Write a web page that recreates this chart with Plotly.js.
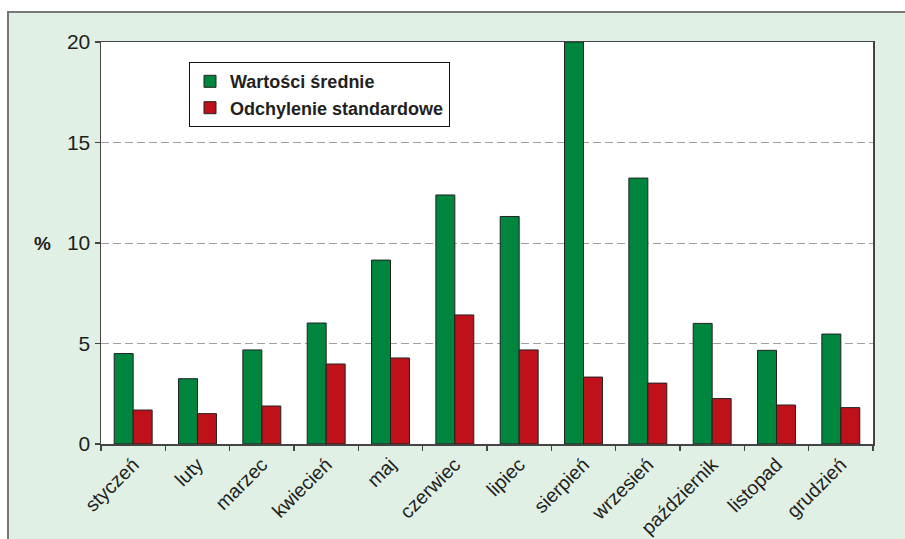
<!DOCTYPE html>
<html>
<head>
<meta charset="utf-8">
<script src="https://cdn.plot.ly/plotly-3.0.1.min.js"></script>
<style>
  html, body { margin: 0; padding: 0; background: #ffffff; width: 905px; height: 539px; overflow: hidden; }
  #frame { position: absolute; left: 7px; top: 11px; width: 896px; height: 526px;
           border-left: 2px solid #777777; border-top: 2px solid #777777; background: #E1F0E5; }
  #chart { width: 896px; height: 526px; }
</style>
</head>
<body>
<div id="frame"><div id="chart"></div></div>
<script>
const months = ["styczeń","luty","marzec","kwiecień","maj","czerwiec","lipiec","sierpień","wrzesień","październik","listopad","grudzień"];
const meanValues = [4.5, 3.25, 4.68, 6.02, 9.15, 12.39, 11.32, 20.0, 13.23, 6.0, 4.66, 5.47];
const stdValues  = [1.69, 1.51, 1.89, 3.98, 4.28, 6.42, 4.68, 3.33, 3.03, 2.26, 1.94, 1.81];
const yTicks = [0, 5, 10, 15, 20];
const seriesNames = ["Wartości średnie", "Odchylenie standardowe"];

const traces = [
  { type: "bar", x: months, y: meanValues, name: "<b>" + seriesNames[0] + "</b>",
    marker: { color: "#00853F", line: { color: "#222222", width: 1 } } },
  { type: "bar", x: months, y: stdValues, name: "<b>" + seriesNames[1] + "</b>",
    marker: { color: "#BE111A", line: { color: "#222222", width: 1 } } }
];

const layout = {
  width: 896, height: 526,
  margin: { l: 92, r: 32, t: 29, b: 95 },
  paper_bgcolor: "rgba(0,0,0,0)",
  plot_bgcolor: "#ffffff",
  barmode: "group",
  bargap: 0.41,
  bargroupgap: 0,
  font: { family: "Arial, 'Liberation Sans', sans-serif", color: "#231F20" },
  showlegend: true,
  legend: {
    x: 0.114, y: 0.95, xanchor: "left", yanchor: "top",
    bgcolor: "#ffffff", bordercolor: "#111111", borderwidth: 1,
    font: { size: 18, color: "#231F20" },
    tracegroupgap: 0, itemwidth: 30
  },
  xaxis: {
    type: "category",
    tickangle: -45,
    tickfont: { size: 19.5 },
    ticks: "outside", ticklen: 5, tickcolor: "#444444", tickwidth: 1.5,
    tickson: "boundaries",
    showline: true, linecolor: "#444444", linewidth: 1.5, mirror: true,
    showgrid: false, zeroline: false, fixedrange: true
  },
  yaxis: {
    range: [0, 20],
    tickvals: yTicks,
    ticktext: yTicks.map(String),
    tickfont: { size: 21 },
    ticks: "outside", ticklen: 5, tickcolor: "#444444", tickwidth: 1.5,
    showline: true, linecolor: "#444444", linewidth: 1.5, mirror: true,
    showgrid: true, gridcolor: "#A0A0A0", gridwidth: 1, griddash: "8px,4px",
    zeroline: false, fixedrange: true
  },
  annotations: [
    { text: "<b>%</b>", xref: "paper", yref: "paper", x: -0.076, y: 0.5,
      xanchor: "center", yanchor: "middle", showarrow: false,
      font: { size: 19, color: "#231F20" } }
  ]
};

Plotly.newPlot("chart", traces, layout, { displayModeBar: false, staticPlot: true });
</script>
</body>
</html>
